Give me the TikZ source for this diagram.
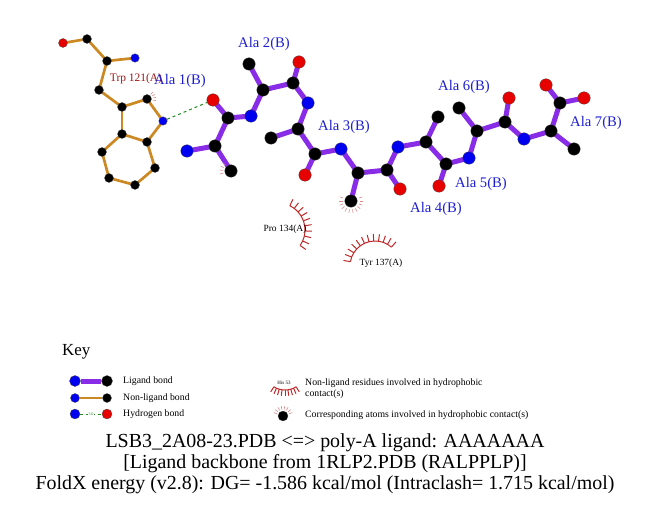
\documentclass[tikz,border=0pt]{standalone}
\usepackage{fontspec}
\setmainfont{Liberation Serif}
\usetikzlibrary{backgrounds}

\definecolor{ligbond}{RGB}{136,44,232}
\definecolor{resbond}{RGB}{204,136,34}
\definecolor{hbond}{RGB}{34,139,34}
\definecolor{atomN}{RGB}{0,0,240}
\definecolor{atomO}{RGB}{230,0,0}
\definecolor{alalab}{RGB}{30,30,210}
\definecolor{reslab}{RGB}{160,20,20}
\definecolor{hydro}{RGB}{190,40,40}

\begin{document}
\begin{tikzpicture}[x=1bp,y=-1bp,
        atom/.style={circle,inner sep=0pt,draw=black!70,line width=0.3bp},
        lc/.style={atom,fill=black,minimum size=12.5bp},
        ln/.style={atom,fill=atomN,minimum size=12.5bp},
        lo/.style={atom,fill=atomO,minimum size=12.5bp},
        rc/.style={atom,fill=black,minimum size=9bp},
        rn/.style={atom,fill=atomN,minimum size=8.5bp},
        ro/.style={atom,fill=atomO,minimum size=9bp},
        lig/.style={draw=ligbond,line width=5bp},
        res/.style={draw=resbond,line width=2.7bp},
        hb/.style={draw=hbond,dashed,line width=1bp},
        hyd/.style={draw=hydro,line width=1bp},
        mk/.style={draw=hydro!55,line width=0.6bp},
        ala/.style={text=alalab,font=\fontsize{14.7}{16}\selectfont,inner sep=0pt},
        reslabel/.style={font=\fontsize{9.5}{11}\selectfont,inner sep=0pt},
        keytext/.style={font=\fontsize{9.8}{11}\selectfont,inner sep=0pt,anchor=west,align=left}]

  \useasboundingbox (0,0) rectangle (651,511);

  % Trp 121(A)
  \node[ro] (t1) at (63,43) {};
  \node[rc] (t2) at (87,39) {};
  \node[rc] (t3) at (107,61) {};
  \node[rn] (t4) at (135,58) {};
  \node[rc] (t5) at (99,90) {};
  \node[rc] (t6) at (122,107) {};
  \node[rc] (t7) at (147,99) {};
  \node[rn] (t8) at (163,121) {};
  \node[rc] (t9) at (147,142) {};
  \node[rc] (t10) at (122,134) {};
  \node[rc] (t11) at (102,152) {};
  \node[rc] (t12) at (109,178) {};
  \node[rc] (t13) at (135,185) {};
  \node[rc] (t14) at (155,168) {};

  % ligand
  \node[lo] (o1) at (213,100) {};
  \node[lc] (c1) at (228,118) {};
  \node[lc] (ca1) at (215,146) {};
  \node[ln] (n1) at (187,151) {};
  \node[lc] (cb1) at (231,171) {};
  \node[ln] (n2) at (251,116) {};
  \node[lc] (ca2) at (263,90) {};
  \node[lc] (cb2) at (249,64) {};
  \node[lc] (c2) at (293,83) {};
  \node[lo] (o2) at (299,62) {};
  \node[ln] (n3) at (308,103) {};
  \node[lc] (ca3) at (298,129) {};
  \node[lc] (cb3) at (271,138) {};
  \node[lc] (c3) at (315,154) {};
  \node[lo] (o3) at (305,175) {};
  \node[ln] (n4) at (341,149) {};
  \node[lc] (ca4) at (358,173) {};
  \node[lc] (cb4) at (351,201) {};
  \node[lc] (c4) at (387,170) {};
  \node[lo] (o4) at (400,189) {};
  \node[ln] (n5) at (398,147) {};
  \node[lc] (ca5) at (426,142) {};
  \node[lc] (cb5) at (438,117) {};
  \node[lc] (c5) at (446,164) {};
  \node[lo] (o5) at (439,186) {};
  \node[ln] (n6) at (469,158) {};
  \node[lc] (ca6) at (477,131) {};
  \node[lc] (cb6) at (459,108) {};
  \node[lc] (c6) at (505,122) {};
  \node[lo] (o6) at (509,98) {};
  \node[ln] (n7) at (524,139) {};
  \node[lc] (ca7) at (551,131) {};
  \node[lc] (cb7) at (574,149) {};
  \node[lc] (c7) at (560,103) {};
  \node[lo] (o7a) at (546,85) {};
  \node[lo] (o7b) at (584,98) {};

  \begin{scope}[on background layer]
  \path (t1.center) edge[res] (t2.center)
        (t2.center) edge[res] (t3.center)
        (t3.center) edge[res] (t4.center)
        (t3.center) edge[res] (t5.center)
        (t5.center) edge[res] (t6.center)
        (t6.center) edge[res] (t7.center)
        (t7.center) edge[res] (t8.center)
        (t8.center) edge[res] (t9.center)
        (t9.center) edge[res] (t10.center)
        (t10.center) edge[res] (t6.center)
        (t10.center) edge[res] (t11.center)
        (t11.center) edge[res] (t12.center)
        (t12.center) edge[res] (t13.center)
        (t13.center) edge[res] (t14.center)
        (t14.center) edge[res] (t9.center);

  \path (n1.center) edge[lig] (ca1.center)
        (ca1.center) edge[lig] (cb1.center)
        (ca1.center) edge[lig] (c1.center)
        (c1.center) edge[lig] (o1.center)
        (c1.center) edge[lig] (n2.center)
        (n2.center) edge[lig] (ca2.center)
        (ca2.center) edge[lig] (cb2.center)
        (ca2.center) edge[lig] (c2.center)
        (c2.center) edge[lig] (o2.center)
        (c2.center) edge[lig] (n3.center)
        (n3.center) edge[lig] (ca3.center)
        (ca3.center) edge[lig] (cb3.center)
        (ca3.center) edge[lig] (c3.center)
        (c3.center) edge[lig] (o3.center)
        (c3.center) edge[lig] (n4.center)
        (n4.center) edge[lig] (ca4.center)
        (ca4.center) edge[lig] (cb4.center)
        (ca4.center) edge[lig] (c4.center)
        (c4.center) edge[lig] (o4.center)
        (c4.center) edge[lig] (n5.center)
        (n5.center) edge[lig] (ca5.center)
        (ca5.center) edge[lig] (cb5.center)
        (ca5.center) edge[lig] (c5.center)
        (c5.center) edge[lig] (o5.center)
        (c5.center) edge[lig] (n6.center)
        (n6.center) edge[lig] (ca6.center)
        (ca6.center) edge[lig] (cb6.center)
        (ca6.center) edge[lig] (c6.center)
        (c6.center) edge[lig] (o6.center)
        (c6.center) edge[lig] (n7.center)
        (n7.center) edge[lig] (ca7.center)
        (ca7.center) edge[lig] (cb7.center)
        (ca7.center) edge[lig] (c7.center)
        (c7.center) edge[lig] (o7a.center)
        (c7.center) edge[lig] (o7b.center);
  \end{scope}

  \path (t8) edge[hb] (o1);

  % hydrophobic contacts
  \foreach \a in {-50,-30,-10,10} \draw[mk] (t7) ++(\a:6) -- ++(\a:3);
  \foreach \a in {165,185,205,225} \draw[mk] (cb1) ++(\a:8) -- ++(\a:3.5);
  \foreach \a in {-20,0,...,200} \draw[mk] (cb4) ++(\a:8.5) -- ++(\a:3.5);

  \coordinate (pro) at (278,230);
  \draw[hyd] (pro) ++(-64:27) arc (-64:35:27);
  \foreach \a in {-64,-53,...,35} \draw[hyd] (pro) ++(\a:27) -- ++(\a:7);
  \coordinate (tyr) at (375,266);
  \draw[hyd] (tyr) ++(-170:25) arc (-170:-49:25);
  \foreach \a in {-170,-159,...,-49} \draw[hyd] (tyr) ++(\a:25) -- ++(\a:7);

  % labels
  \node[reslabel,text=reslab,font=\fontsize{11.5}{13}\selectfont] (trp) at (136,79) {Trp 121(A)};
  \node[ala] (ala1) at (180,81) {Ala 1(B)};
  \node[ala] (ala2) at (264,44) {Ala 2(B)};
  \node[ala] (ala3) at (344,127) {Ala 3(B)};
  \node[ala] (ala4) at (436,209) {Ala 4(B)};
  \node[ala] (ala5) at (481,184) {Ala 5(B)};
  \node[ala] (ala6) at (464,87) {Ala 6(B)};
  \node[ala] (ala7) at (596,123) {Ala 7(B)};
  \node[reslabel] (prol) at (285,229) {Pro 134(A)};
  \node[reslabel] (tyrl) at (381,263) {Tyr 137(A)};

  % key
  \node[inner sep=0pt,anchor=west,font=\fontsize{17}{19}\selectfont] (key) at (62,352) {Key};

  \node[atom,fill=atomN,minimum size=11bp] (k1a) at (75,381) {};
  \node[atom,fill=black,minimum size=11bp] (k1b) at (107,381) {};
  \node[atom,fill=atomN,minimum size=9bp] (k2a) at (75,398) {};
  \node[atom,fill=black,minimum size=9bp] (k2b) at (107,398) {};
  \node[atom,fill=atomN,minimum size=10bp] (k3a) at (75,414) {};
  \node[atom,fill=atomO,minimum size=10bp] (k3b) at (107,414) {};
  \path (k1a) edge[lig] (k1b)
        (k2a) edge[res] (k2b)
        (k3a) edge[hb] node[text=hbond,font=\fontsize{4}{4}\selectfont,fill=white,inner sep=0.5pt] {3.0} (k3b);

  \node[keytext] (kt1) at (123,381) {Ligand bond};
  \node[keytext] (kt2) at (123,398) {Non-ligand bond};
  \node[keytext] (kt3) at (123,414) {Hydrogen bond};

  \node[inner sep=0pt,font=\fontsize{5}{5}\selectfont] (his) at (284,383) {His 53};
  \coordinate (hisc) at (285,369);
  \draw[hyd] (hisc) ++(58:21) arc (58:122:21);
  \foreach \a in {58,66,...,122} \draw[hyd] (hisc) ++(\a:21) -- ++(\a:6);
  \node[atom,fill=black,minimum size=10bp] (k4) at (283,416) {};
  \foreach \a in {-160,-140,...,-20} \draw[mk] (k4) ++(\a:6.5) -- ++(\a:3.5);

  \node[keytext] (kt4) at (305,388.5) {Non-ligand residues involved in hydrophobic\\contact(s)};
  \node[keytext] (kt5) at (305,415) {Corresponding atoms involved in hydrophobic contact(s)};

  % title
  \node[align=center,inner sep=0pt,font=\fontsize{20}{21}\selectfont] (title) at (325,464)
    {LSB3\_2A08-23.PDB <=> poly-A ligand: AAAAAAA\\
     {[}Ligand backbone from 1RLP2.PDB (RALPPLP){]}\\
     FoldX energy (v2.8): DG= -1.586 kcal/mol (Intraclash= 1.715 kcal/mol)};

\end{tikzpicture}
\end{document}
